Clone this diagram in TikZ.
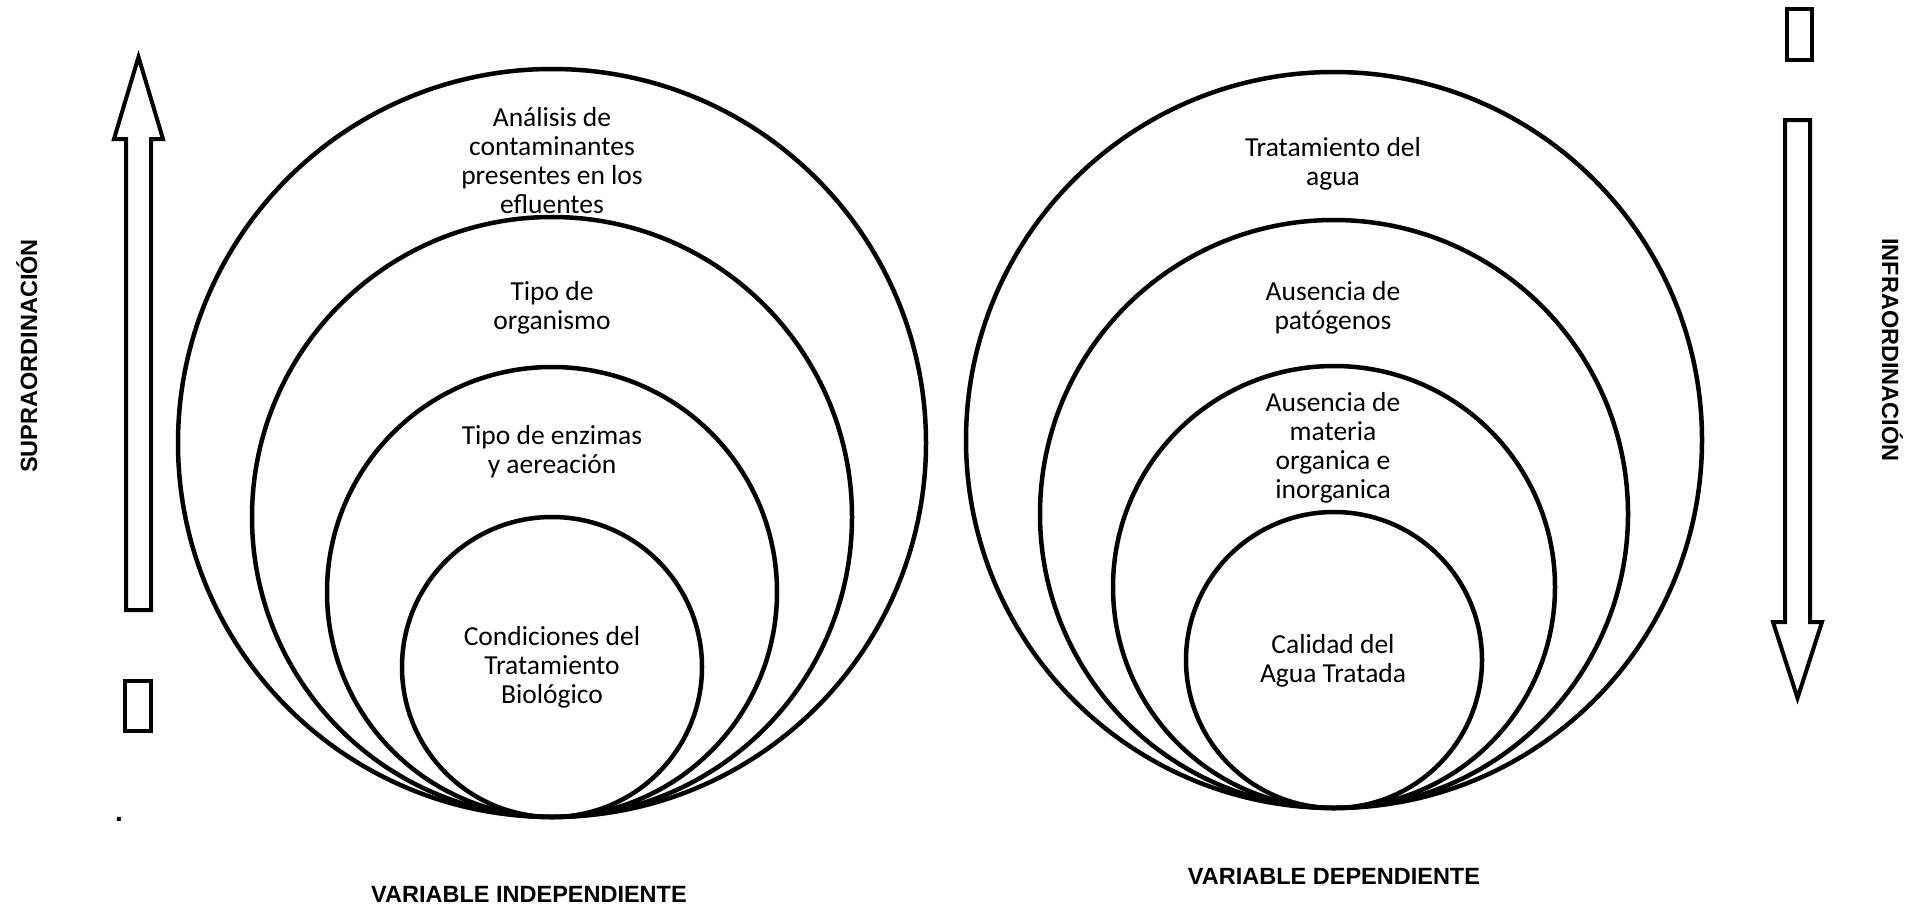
\documentclass[tikz,border=0pt]{standalone}
\usepackage{fontspec}
\setmainfont{Carlito}
\newfontfamily\labelfont{Liberation Sans}
\begin{document}
\begin{tikzpicture}[x=1pt,y=-1pt,
  ring/.style={draw=black,line width=4.5pt},
  circtext/.style={align=center,inner sep=0pt,font=\fontsize{27.5}{29}\selectfont},
  caplabel/.style={inner sep=0pt,font=\labelfont\bfseries\fontsize{23.5}{28}\selectfont},
  hollow/.style={draw=black,line width=4pt,line join=miter,fill=white},
  tofu/.style={draw=black,line width=4pt}]
\useasboundingbox[fill=white] (0,0) rectangle (1914,907);

% independent variable: nested circles touching at the bottom
\draw[ring] (552,443) circle[radius=374pt];
\draw[ring] (552,517) circle[radius=300pt];
\draw[ring] (552,592) circle[radius=225pt];
\draw[ring] (552,667) circle[radius=150pt];

% dependent variable: nested circles touching at the bottom
\draw[ring] (1334,440) circle[radius=368pt];
\draw[ring] (1334,514) circle[radius=294pt];
\draw[ring] (1334,587) circle[radius=221pt];
\draw[ring] (1334,660) circle[radius=148pt];

% texts of the left circles
\node[circtext] (la) at (552,161) {Análisis de\\contaminantes\\presentes en los\\efluentes};
\node[circtext] (lb) at (552,308) {Tipo de\\organismo};
\node[circtext] (lc) at (552,452) {Tipo de enzimas\\y aereación};
\node[circtext] (ld) at (552,667) {Condiciones del\\Tratamiento\\Biológico};

% texts of the right circles
\node[circtext] (ra) at (1333,164) {Tratamiento del\\agua};
\node[circtext] (rb) at (1333,308) {Ausencia de\\patógenos};
\node[circtext] (rc) at (1333,448) {Ausencia de\\materia\\organica e\\inorganica};
\node[circtext] (rd) at (1333,661) {Calidad del\\Agua Tratada};

% captions
\node[caplabel,anchor=base] (vi) at (529,902) {VARIABLE INDEPENDIENTE};
\node[caplabel,anchor=base] (vd) at (1334,884) {VARIABLE DEPENDIENTE};
\node[caplabel,anchor=base,rotate=90] (sup) at (37,356) {SUPRAORDINACIÓN};
\node[caplabel,anchor=base,rotate=-90] (inf) at (1882,350) {INFRAORDINACIÓN};

% hollow block arrows
\draw[hollow] (126,610) -- (126,139) -- (114,139) -- (138.5,57) -- (163,139)
  -- (151,139) -- (151,610) -- cycle;
\draw[hollow] (1785,120) -- (1785,622) -- (1773,622) -- (1797.5,698) -- (1822,622)
  -- (1810,622) -- (1810,120) -- cycle;

% small empty boxes
\draw[tofu] (125,681) rectangle (151,731);
\draw[tofu] (1787,9) rectangle (1812,60);

% stray full stop
\node[caplabel,anchor=base,font=\labelfont\bfseries\fontsize{28}{30}\selectfont] (dot) at (119,821) {.};
\end{tikzpicture}
\end{document}
